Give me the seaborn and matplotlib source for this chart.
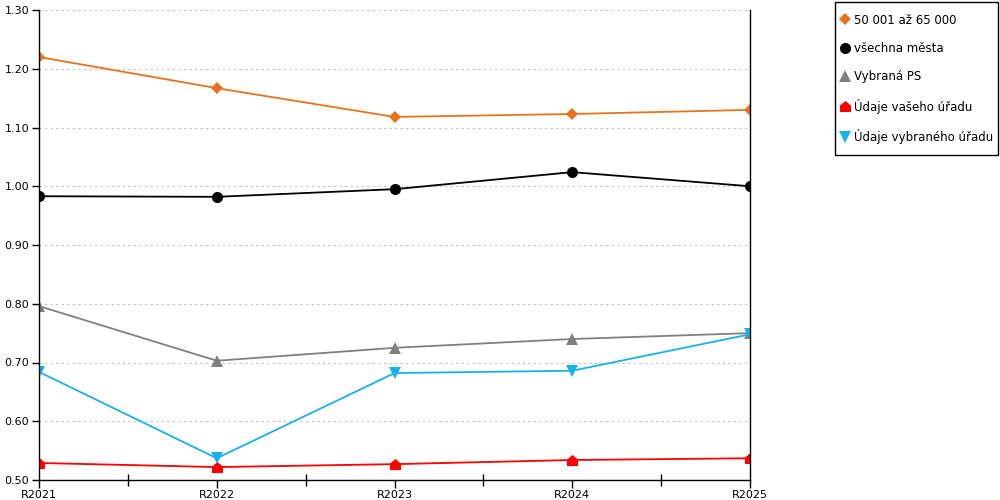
import matplotlib
matplotlib.use("Agg")
import matplotlib.pyplot as plt
from matplotlib.lines import Line2D
from matplotlib.patches import Rectangle
from matplotlib.path import Path
from matplotlib.ticker import FixedLocator
import seaborn as sns

years = ["R2021", "R2022", "R2023", "R2024", "R2025"]
s_size = [1.220, 1.167, 1.118, 1.123, 1.130]
s_all = [0.983, 0.982, 0.995, 1.024, 1.000]
s_ps = [0.796, 0.703, 0.725, 0.740, 0.750]
s_yours = [0.529, 0.522, 0.527, 0.534, 0.537]
s_selected = [0.684, 0.537, 0.682, 0.686, 0.748]

labels = ["50 001 až 65 000", "všechna města", "Vybraná PS",
          "Údaje vašeho úřadu", "Údaje vybraného úřadu"]

house = Path([(-1, -1), (1, -1), (1, 0.15), (0, 1), (-1, 0.15), (-1, -1)],
             [Path.MOVETO, Path.LINETO, Path.LINETO, Path.LINETO,
              Path.LINETO, Path.CLOSEPOLY])

series = [
    (s_size, "#e8731c", "D", 6),
    (s_all, "#000000", "o", 8),
    (s_ps, "#808080", "^", 8),
    (s_yours, "#ff0000", house, 8),
    (s_selected, "#1ab0ec", "v", 8),
]

sns.set_theme(style="white")
plt.rcParams["font.family"] = ["DejaVu Sans"]
plt.rcParams["text.color"] = "black"
plt.rcParams["xtick.color"] = "black"
plt.rcParams["ytick.color"] = "black"

fig = plt.figure(figsize=(10, 5), dpi=100)
ax = fig.add_axes([0.039, 0.04, 0.711, 0.94])

handles = []
for (vals, col, mk, ms), lab in zip(series, labels):
    sns.lineplot(x=years, y=vals, ax=ax, color=col, marker=mk,
                 markersize=ms, markeredgewidth=0, linewidth=1.3,
                 markeredgecolor=col, legend=False)
    handles.append(Line2D([], [], color=col, marker=mk, linestyle="none",
                          markersize=ms, markeredgewidth=0))

ax.set_xlim(0, 4)
ax.set_ylim(0.5, 1.3)
ax.set_yticks([0.5 + 0.1 * i for i in range(9)])
ax.set_yticklabels([f"{0.5 + 0.1 * i:.2f}" for i in range(9)])
ax.xaxis.set_minor_locator(FixedLocator([0.5, 1.5, 2.5, 3.5]))
ax.set_xlabel("")
ax.set_ylabel("")

ax.grid(axis="y", color="#c0c0c0", linestyle=(0, (2, 3)), linewidth=0.8)
ax.grid(axis="x", visible=False)
ax.set_axisbelow(True)

for side in ["left", "bottom", "right"]:
    ax.spines[side].set_visible(True)
    ax.spines[side].set_color("black")
    ax.spines[side].set_linewidth(1.0)
ax.spines["top"].set_visible(False)

ax.tick_params(axis="both", which="major", direction="out", length=5,
               width=1, color="black", labelsize=8, pad=2,
               labelcolor="black", left=True, bottom=True)
ax.tick_params(axis="x", which="minor", direction="inout", length=8,
               width=1, color="black", bottom=True)
ax.tick_params(axis="x", which="major", length=6, pad=1)

# legend frame drawn separately so the padding can differ per side
fig.patches.append(Rectangle((0.835, 0.69), 0.163, 0.306,
                             transform=fig.transFigure, fill=False,
                             edgecolor="black", linewidth=1.0))
fig.legend(handles, labels, loc="upper left",
           bbox_to_anchor=(0.841, 0.973), frameon=False,
           fontsize=8.5, labelspacing=1.3, handlelength=0.7,
           handletextpad=0.4, borderpad=0, borderaxespad=0,
           labelcolor="black")

fig.savefig("out.png", dpi=100)
